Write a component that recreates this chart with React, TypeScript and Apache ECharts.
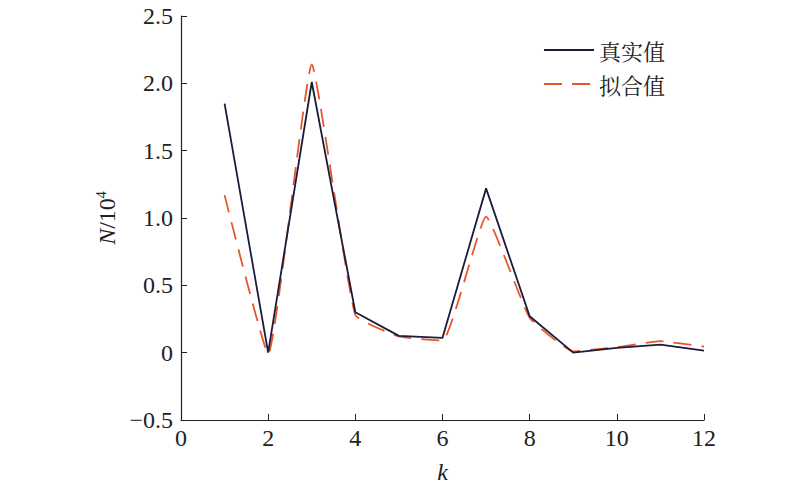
import React, { useEffect, useRef } from "react";
import * as echarts from "echarts";

const kValues = [1, 2, 3, 4, 5, 6, 7, 8, 9, 10, 11, 12];
const realValues = [1.85, 0.0, 2.01, 0.3, 0.125, 0.11, 1.22, 0.27, 0.0, 0.035, 0.06, 0.015];
const fitValues = [1.17, -0.01, 2.14, 0.28, 0.12, 0.09, 1.01, 0.26, 0.01, 0.04, 0.085, 0.045];
const seriesNames = ["真实值", "拟合值"];

const SERIF = "'Liberation Serif', 'Times New Roman', serif";
const CJK = "'Noto Serif CJK SC', 'Noto Sans CJK SC', sans-serif";

export default function App() {
  const ref = useRef<HTMLDivElement>(null);
  useEffect(() => {
    if (!ref.current) return;
    const chart = echarts.init(ref.current, undefined, { renderer: "svg" });
    chart.setOption({
      animation: false,
      backgroundColor: "#ffffff",
      grid: { left: 181, right: 96, top: 16, bottom: 66, containLabel: false },
      legend: {
        right: 130,
        top: 34,
        orient: "vertical",
        itemWidth: 50,
        itemHeight: 10,
        itemGap: 12,
        itemStyle: { opacity: 0 },
        textStyle: { fontFamily: CJK, fontSize: 22, color: "#222" },
        data: seriesNames,
      },
      xAxis: {
        type: "value",
        min: 0,
        max: 12,
        interval: 2,
        name: "k",
        nameLocation: "middle",
        nameGap: 40,
        nameTextStyle: { fontFamily: SERIF, fontStyle: "italic", fontSize: 24, color: "#222" },
        axisLine: { show: true, onZero: false, lineStyle: { color: "#222", width: 1.2 } },
        axisTick: { show: true, inside: true, length: 6, lineStyle: { color: "#222" } },
        axisLabel: { fontFamily: SERIF, fontSize: 24, color: "#222", margin: 6 },
        splitLine: { show: false },
      },
      yAxis: {
        type: "value",
        min: -0.5,
        max: 2.5,
        interval: 0.5,
        name: "{i|N}{n|/10}{s|4}",
        nameLocation: "middle",
        nameGap: 56,
        nameRotate: 90,
        nameTextStyle: {
          rich: {
            i: { fontFamily: SERIF, fontStyle: "italic", fontSize: 24, color: "#222" },
            n: { fontFamily: SERIF, fontSize: 24, color: "#222" },
            s: { fontFamily: SERIF, fontSize: 14, color: "#222", verticalAlign: "top", padding: [0, 0, 10, 0] },
          },
        },
        axisLine: { show: true, onZero: false, lineStyle: { color: "#222", width: 1.2 } },
        axisTick: { show: true, inside: true, length: 6, lineStyle: { color: "#222" } },
        axisLabel: {
          fontFamily: SERIF,
          fontSize: 24,
          color: "#222",
          margin: 8,
          formatter: (v: number) => {
            if (v === 0) return "0";
            const s = v.toFixed(1);
            return v < 0 ? "\u2212" + s.slice(1) : s;
          },
        },
        splitLine: { show: false },
      },
      series: [
        {
          name: seriesNames[0],
          type: "line",
          data: kValues.map((k, i) => [k, realValues[i]]),
          symbol: "none",
          lineStyle: { color: "#1c1b3b", width: 1.8 },
          itemStyle: { color: "#1c1b3b" },
          z: 3,
        },
        {
          name: seriesNames[1],
          type: "line",
          data: kValues.map((k, i) => [k, fitValues[i]]),
          symbol: "none",
          smooth: 0.12,
          lineStyle: { color: "#e5572b", width: 1.8, type: [18, 10] },
          itemStyle: { color: "#e5572b" },
          z: 2,
        },
      ],
    });
    return () => chart.dispose();
  }, []);
  return <div ref={ref} style={{ width: 800, height: 489, position: "absolute", left: 0, top: 0 }} />;
}
